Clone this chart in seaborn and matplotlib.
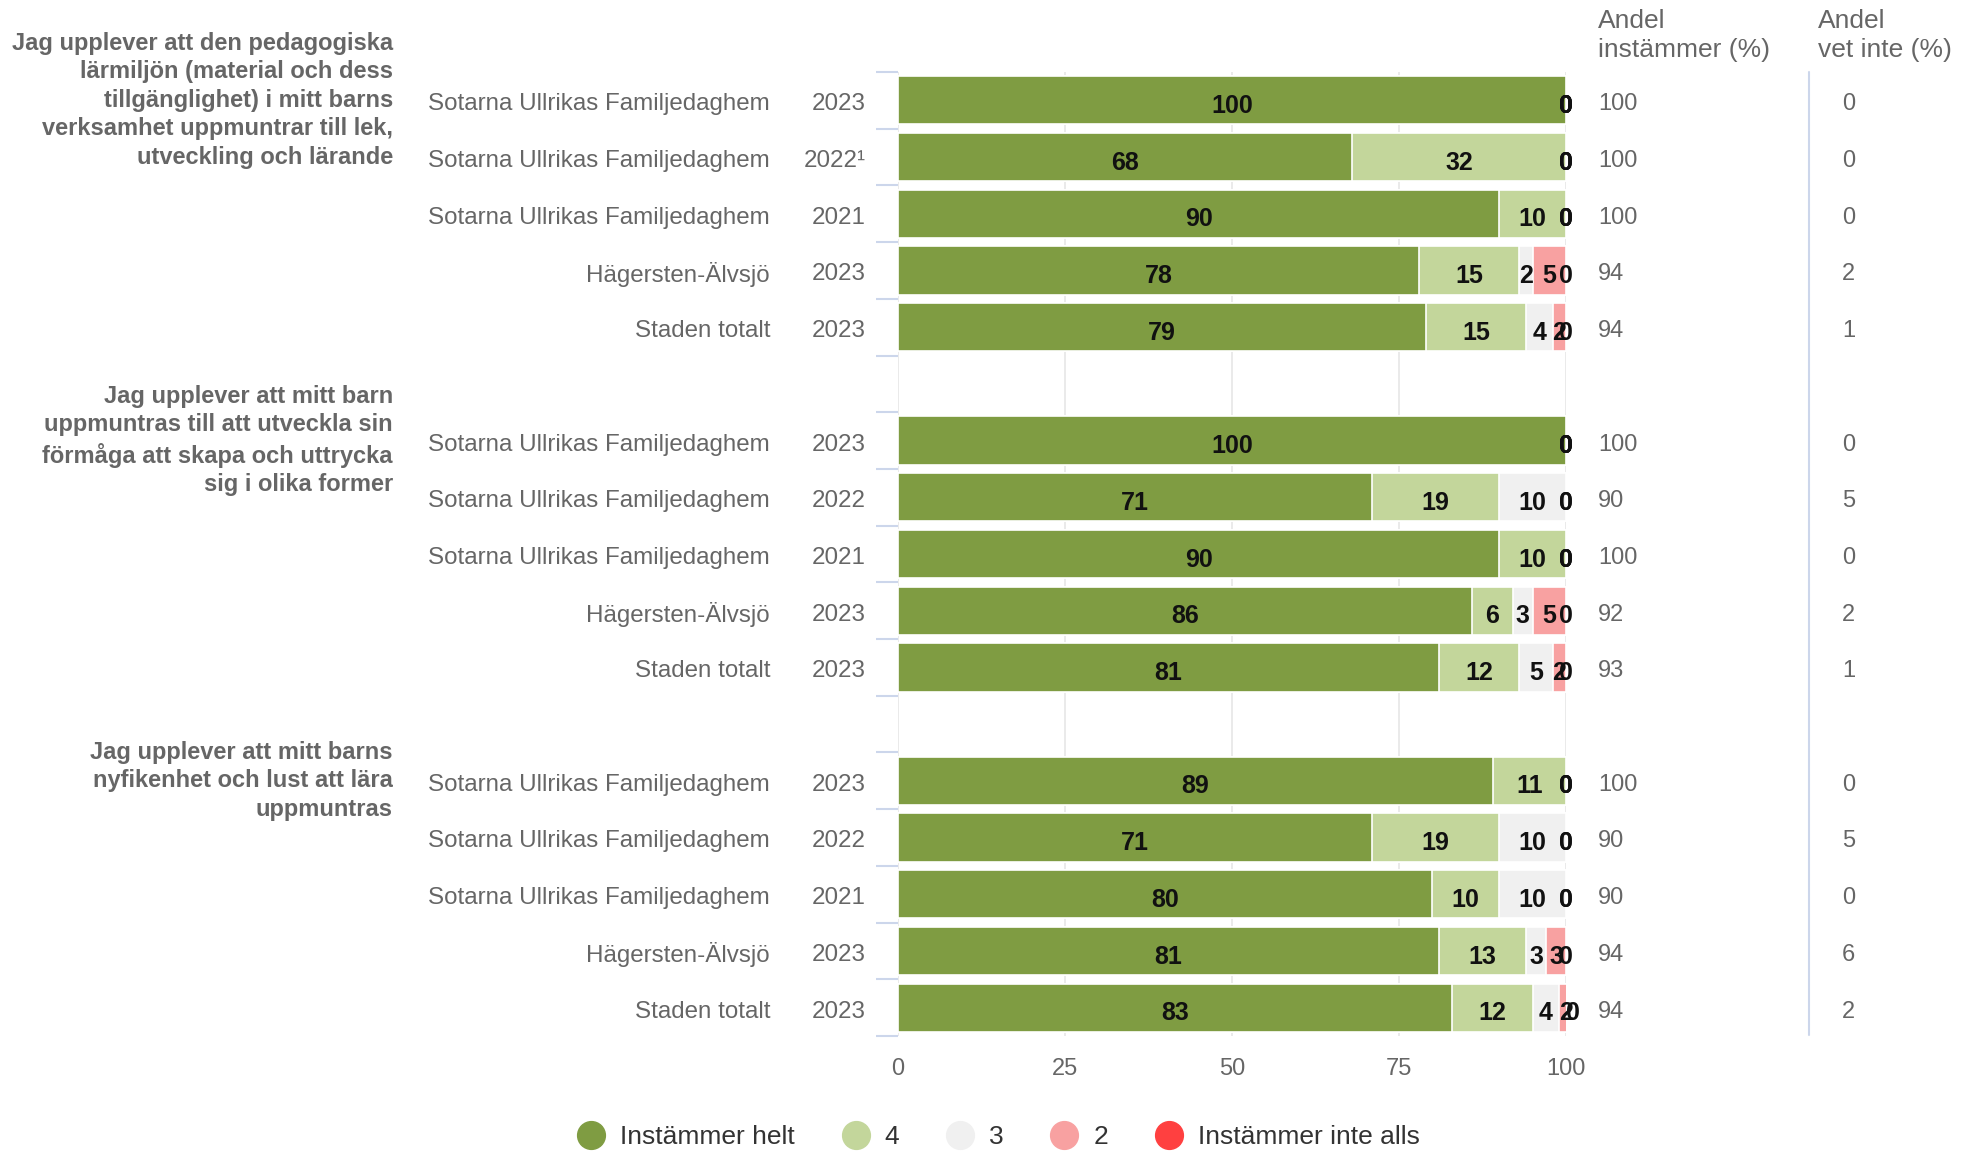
import matplotlib as mpl
import matplotlib.pyplot as plt
import matplotlib.transforms as mtransforms
from matplotlib.lines import Line2D
import numpy as np
import pandas as pd
import seaborn as sns

mpl.use("Agg")

# --- data -------------------------------------------------------------
questions = [
    "Jag upplever att den pedagogiska\nlärmiljön (material och dess\ntillgänglighet) i mitt barns\nverksamhet uppmuntrar till lek,\nutveckling och lärande",
    "Jag upplever att mitt barn\nuppmuntras till att utveckla sin\nförmåga att skapa och uttrycka\nsig i olika former",
    "Jag upplever att mitt barns\nnyfikenhet och lust att lära\nuppmuntras",
]
units = ["Sotarna Ullrikas Familjedaghem", "Sotarna Ullrikas Familjedaghem",
         "Sotarna Ullrikas Familjedaghem", "Hägersten-Älvsjö", "Staden totalt"]
years = [
    ["2023", "2022¹", "2021", "2023", "2023"],
    ["2023", "2022", "2021", "2023", "2023"],
    ["2023", "2022", "2021", "2023", "2023"],
]
categories = ["Instämmer helt", "4", "3", "2", "Instämmer inte alls"]
helt = [100, 68, 90, 78, 79, 100, 71, 90, 86, 81, 89, 71, 80, 81, 83]
fyra = [0, 32, 10, 15, 15, 0, 19, 10, 6, 12, 11, 19, 10, 13, 12]
tre = [0, 0, 0, 2, 4, 0, 10, 0, 3, 5, 0, 10, 10, 3, 4]
tva = [0, 0, 0, 5, 2, 0, 0, 0, 5, 2, 0, 0, 0, 3, 2]
inte_alls = [0, 0, 0, 0, 0, 0, 0, 0, 0, 0, 0, 0, 0, 0, 0]
andel_instammer = [100, 100, 100, 94, 94, 100, 90, 100, 92, 93, 100, 90, 90, 94, 94]
andel_vet_inte = [0, 0, 0, 2, 1, 0, 5, 0, 2, 1, 0, 5, 0, 6, 2]
x_ticks = [0, 25, 50, 75, 100]

colors = ["#7f9c42", "#c3d69b", "#f0f0f0", "#f8a1a1", "#ff4040"]

# --- layout of rows (one empty slot between questions) -------------------
order = []
row_keys = []
for q in range(len(questions)):
    for r in range(len(units)):
        key = f"q{q}_r{r}"
        order.append(key)
        row_keys.append(key)
    if q < len(questions) - 1:
        order.append(f"gap{q}")
slot = {k: i for i, k in enumerate(order)}

values = np.array([helt, fyra, tre, tva, inte_alls], dtype=float)
cum = np.cumsum(values, axis=0)
df = pd.DataFrame({"row": row_keys})
for k in range(len(categories)):
    df[f"cum{k}"] = cum[k]

sns.set_style("white")
plt.rcParams["font.family"] = ["Liberation Sans", "DejaVu Sans"]

fig = plt.figure(figsize=(19.7, 11.53), dpi=100)
ax = fig.add_axes([898 / 1970, 1 - 1036 / 1153, 668 / 1970, 964 / 1153])

# stacked bars: draw cumulative totals, widest first
for k in reversed(range(len(categories))):
    sns.barplot(data=df, x=f"cum{k}", y="row", order=order, orient="h",
                color=colors[k], width=0.85, edgecolor="white", linewidth=1.2,
                errorbar=None, ax=ax, zorder=2, saturation=1)

ax.set_xlim(0, 100)
ax.set_ylim(len(order) - 0.5, -0.5)
ax.set_xticks(x_ticks)
ax.set_xticklabels([str(t) for t in x_ticks], fontsize=17, color="#666666")
ax.tick_params(axis="x", length=0, pad=16)
ax.grid(axis="x", color="#e6e6e6", lw=1.2, zorder=0)
ax.set_axisbelow(True)
ax.set_yticks([])
ax.set_yticks(np.arange(-0.5, len(order), 1.0), minor=True)
ax.tick_params(axis="y", which="minor", length=16, width=1.5, color="#ccd6eb", left=True)
ax.set_xlabel("")
ax.set_ylabel("")
for s in ax.spines.values():
    s.set_visible(False)

# segment labels
prev = np.vstack([np.zeros(len(helt)), cum[:-1]])
for i, key in enumerate(row_keys):
    y = slot[key]
    for k in range(len(categories)):
        xc = prev[k, i] + values[k, i] / 2
        ax.text(xc, y + 0.1, f"{int(values[k, i])}", ha="center", va="center",
                fontsize=18, fontweight="bold", color="#111111", zorder=5, clip_on=False)

# row labels, years and side columns
tr = mtransforms.blended_transform_factory(ax.transAxes, ax.transData)
dy = 0.07
for i, key in enumerate(row_keys):
    q, r = divmod(i, len(units))
    y = slot[key] + dy
    ax.text(-0.1916, y, units[r], transform=tr, ha="right", va="center",
            fontsize=17.4, color="#666666")
    ax.text(-0.0479, y, years[q][r], transform=tr, ha="right", va="center",
            fontsize=17.4, color="#666666")
    ax.text(1.048, y, str(andel_instammer[i]), transform=tr, ha="left", va="center",
            fontsize=17, color="#666666")
    ax.text(1.413, y, str(andel_vet_inte[i]), transform=tr, ha="left", va="center",
            fontsize=17, color="#666666")

for q, text in enumerate(questions):
    y = slot[f"q{q}_r0"]
    ax.text(-0.756, y, text, transform=tr, ha="right", va="center",
            fontsize=17, fontweight="bold", color="#666666", linespacing=1.31)

# column headers and separator
fig.text(1598 / 1970, 0.992, "Andel\ninstämmer (%)", ha="left", va="top",
         fontsize=19, color="#666666", linespacing=1.25)
fig.text(1818 / 1970, 0.992, "Andel\nvet inte (%)", ha="left", va="top",
         fontsize=19, color="#666666", linespacing=1.25)
fig.add_artist(Line2D([1809 / 1970, 1809 / 1970], [1 - 72 / 1153, 1 - 1035 / 1153],
                      color="#ccd6eb", lw=1.5))

# legend
handles = [Line2D([0], [0], marker="o", linestyle="none", markersize=20,
                  markerfacecolor=c, markeredgecolor=c) for c in colors]
fig.legend(handles, categories, loc="center", bbox_to_anchor=(0.507, 0.0139),
           ncol=5, frameon=False, fontsize=19, handlelength=1.0,
           handletextpad=0.6, columnspacing=1.8, labelcolor="#333333")

fig.savefig("out.png", dpi=100)
